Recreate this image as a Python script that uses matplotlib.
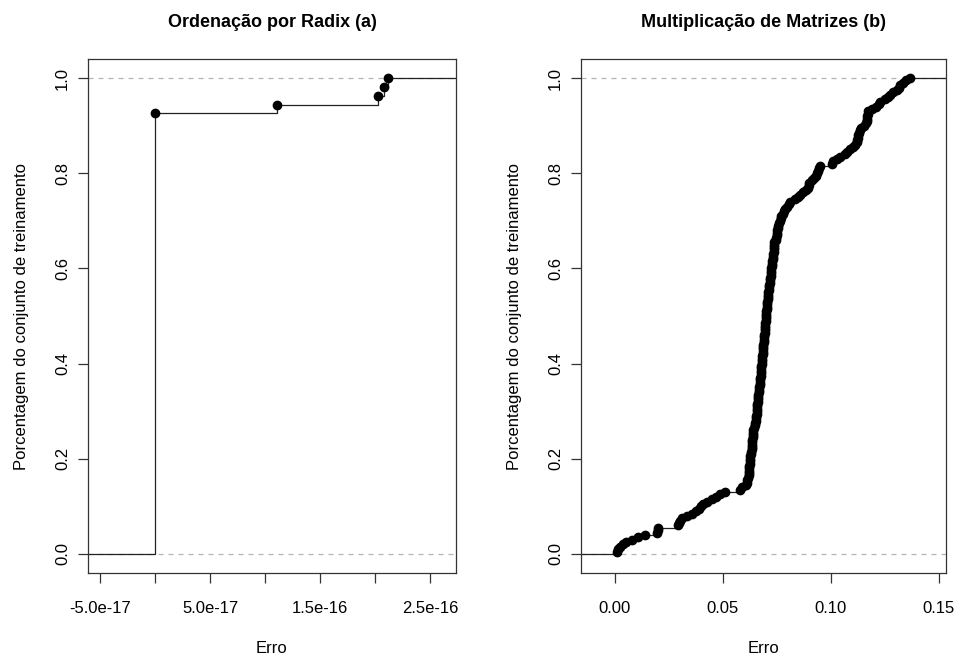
"""
ECDF do erro de predicao - Radix (a) e Multiplicacao de Matrizes (b)
Recriacao em matplotlib do grafico estilo R (plot.ecdf).
"""

import numpy as np
import matplotlib
matplotlib.use("Agg")
import matplotlib.pyplot as plt

plt.rcParams["font.family"] = ["Liberation Sans", "DejaVu Sans"]

# ---- dados ----
# (a) radix: 50 erros nulos + 4 pequenos
radix_err = [0.0] * 50 + [1.11e-16, 2.03e-16, 2.08e-16, 2.12e-16]

# (b) multiplicacao de matrizes: 200 erros ordenados
matmul_err = [
    0.0010, 0.0015, 0.0025, 0.0037, 0.0055, 0.0083, 0.0110, 0.0140, 0.0195, 0.0199,
    0.0201, 0.0295, 0.0300, 0.0302, 0.0310, 0.0335, 0.0360, 0.0375, 0.0390, 0.0400,
    0.0410, 0.0430, 0.0450, 0.0470, 0.0490, 0.0510, 0.0580, 0.0590, 0.0610, 0.0613,
    0.0615, 0.0618, 0.0620, 0.0621, 0.0622, 0.0623, 0.0624, 0.0625, 0.0626, 0.0627,
    0.0628, 0.0630, 0.0632, 0.0634, 0.0635, 0.0636, 0.0637, 0.0638, 0.0639, 0.0640,
    0.0641, 0.0643, 0.0646, 0.0649, 0.0651, 0.0653, 0.0654, 0.0656, 0.0657, 0.0658,
    0.0659, 0.0660, 0.0661, 0.0662, 0.0663, 0.0665, 0.0666, 0.0668, 0.0669, 0.0670,
    0.0672, 0.0673, 0.0674, 0.0675, 0.0676, 0.0677, 0.0678, 0.0679, 0.0680, 0.0681,
    0.0682, 0.0683, 0.0684, 0.0685, 0.0686, 0.0687, 0.0688, 0.0689, 0.0690, 0.0691,
    0.0692, 0.0693, 0.0694, 0.0695, 0.0696, 0.0697, 0.0698, 0.0699, 0.0700, 0.0701,
    0.0702, 0.0703, 0.0704, 0.0705, 0.0706, 0.0707, 0.0708, 0.0709, 0.0710, 0.0711,
    0.0713, 0.0715, 0.0716, 0.0718, 0.0719, 0.0720, 0.0722, 0.0723, 0.0725, 0.0726,
    0.0727, 0.0729, 0.0730, 0.0731, 0.0733, 0.0735, 0.0736, 0.0737, 0.0738, 0.0739,
    0.0740, 0.0745, 0.0748, 0.0750, 0.0752, 0.0753, 0.0755, 0.0758, 0.0761, 0.0764,
    0.0768, 0.0772, 0.0778, 0.0783, 0.0790, 0.0798, 0.0805, 0.0810, 0.0835, 0.0848,
    0.0856, 0.0870, 0.0885, 0.0893, 0.0898, 0.0900, 0.0912, 0.0925, 0.0932, 0.0938,
    0.0940, 0.0945, 0.0950, 0.1005, 0.1012, 0.1030, 0.1045, 0.1065, 0.1074, 0.1090,
    0.1105, 0.1115, 0.1120, 0.1122, 0.1125, 0.1128, 0.1131, 0.1134, 0.1140, 0.1155,
    0.1165, 0.1168, 0.1169, 0.1170, 0.1171, 0.1174, 0.1190, 0.1210, 0.1222, 0.1230,
    0.1250, 0.1265, 0.1275, 0.1290, 0.1305, 0.1315, 0.1320, 0.1335, 0.1350, 0.1365,
]

radix_ticks = [-5e-17, 0, 5e-17, 1e-16, 1.5e-16, 2e-16, 2.5e-16]
radix_ticklabels = ["-5.0e-17", "", "5.0e-17", "", "1.5e-16", "", "2.5e-16"]
matmul_ticks = [0.0, 0.05, 0.10, 0.15]
matmul_ticklabels = ["0.00", "0.05", "0.10", "0.15"]
y_ticks = [0.0, 0.2, 0.4, 0.6, 0.8, 1.0]
y_ticklabels = ["0.0", "0.2", "0.4", "0.6", "0.8", "1.0"]

TITLES = ["Ordenação por Radix (a)", "Multiplicação de Matrizes (b)"]
XLABEL = "Erro"
YLABEL = "Porcentagem do conjunto de treinamento"


def plot_ecdf(ax, data, xlim, ticks, ticklabels, title):
    data = np.sort(np.asarray(data, dtype=float))
    ux, cnt = np.unique(data, return_counts=True)
    fy = np.cumsum(cnt) / len(data)

    ax.axhline(0, color="#b3b3b3", ls=(0, (4, 4)), lw=0.9, zorder=1)
    ax.axhline(1, color="#b3b3b3", ls=(0, (4, 4)), lw=0.9, zorder=1)
    xs = np.concatenate([[xlim[0]], ux, [xlim[1]]])
    ys = np.concatenate([[0.0], fy, [1.0]])
    ax.step(xs, ys, where="post", color="#222222", lw=0.9, zorder=2)
    ax.plot(ux, fy, "o", color="black", ms=6, zorder=3)

    ax.set_xlim(*xlim)
    ax.set_ylim(-0.04, 1.04)
    ax.set_xticks(ticks)
    ax.set_xticklabels(ticklabels)
    ax.set_yticks(y_ticks)
    ax.set_yticklabels(y_ticklabels, rotation=90, va="center")
    ax.tick_params(direction="out", length=7, width=0.9, labelsize=12, pad=6,
                   color="#333333")
    ax.tick_params(axis="x", pad=13)
    for s in ax.spines.values():
        s.set_linewidth(0.9)
        s.set_color("#333333")
    ax.set_title(title, fontsize=13, fontweight="bold", pad=23)
    ax.set_xlabel(XLABEL, fontsize=12, labelpad=18)
    ax.set_ylabel(YLABEL, fontsize=12, labelpad=19)


fig = plt.figure(figsize=(9.56, 6.56), dpi=100)
ax1 = fig.add_axes([0.092, 0.1265, 0.385, 0.7835])
ax2 = fig.add_axes([0.6078, 0.1265, 0.382, 0.7835])

plot_ecdf(ax1, radix_err, (-6.1e-17, 2.735e-16), radix_ticks, radix_ticklabels, TITLES[0])
plot_ecdf(ax2, matmul_err, (-0.0155, 0.1535), matmul_ticks, matmul_ticklabels, TITLES[1])

fig.savefig("out.png", dpi=100)
